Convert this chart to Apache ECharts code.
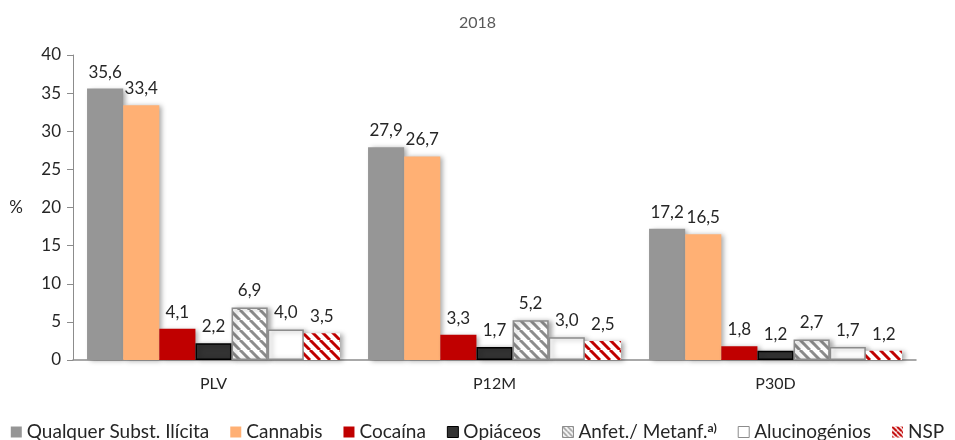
<!DOCTYPE html>
<html lang="pt">
<head>
    <meta charset="UTF-8">
    <script src="https://cdn.jsdelivr.net/npm/echarts@6.0.0/dist/echarts.min.js"></script>
    <title>2018</title>
    <style>body{margin:0;background:#fff;}</style>
</head>
<body>
    <div id="main" style="width: 955px;height:440px;"></div>
    <script type="text/javascript">
      var categories = ['PLV', 'P12M', 'P30D'];
      var seriesNames = ['Qualquer Subst. Ilícita', 'Cannabis', 'Cocaína', 'Opiáceos', 'Anfet./ Metanf.', 'Alucinogénios', 'NSP'];
      var qualquer = [35.6, 27.9, 17.2];
      var cannabis = [33.4, 26.7, 16.5];
      var cocaina = [4.1, 3.3, 1.8];
      var opiaceos = [2.2, 1.7, 1.2];
      var anfet = [6.9, 5.2, 2.7];
      var alucinog = [4.0, 3.0, 1.7];
      var nsp = [3.5, 2.5, 1.2];
      var yTicks = [0, 5, 10, 15, 20, 25, 30, 35, 40];

      // listras diagonais
      function stripes(col, size, lw) {
        var c = document.createElement('canvas');
        c.width = size; c.height = size;
        var ctx = c.getContext('2d');
        ctx.fillStyle = '#fff';
        ctx.fillRect(0, 0, size, size);
        ctx.strokeStyle = col;
        ctx.lineWidth = lw;
        ctx.beginPath();
        for (var k = -size; k <= 2 * size; k += size) {
          ctx.moveTo(k, 0);
          ctx.lineTo(k + size, size);
        }
        ctx.stroke();
        return { image: c, repeat: 'repeat' };
      }

      var styles = [
        { color: '#969696' },
        { color: '#FFB074' },
        { color: '#C00000' },
        { color: '#333333', borderColor: '#000', borderWidth: 1.5 },
        { color: stripes('#8c8c8c', 10, 3), borderColor: '#8c8c8c', borderWidth: 1.5 },
        { color: '#ffffff', borderColor: '#8c8c8c', borderWidth: 1.5 },
        { color: stripes('#C00000', 10, 3) }
      ];
      var legendStyles = [
        { color: '#969696' },
        { color: '#FFB074' },
        { color: '#C00000' },
        { color: '#333333', borderColor: '#000', borderWidth: 1 },
        { color: stripes('#8c8c8c', 5, 1.5), borderColor: '#8c8c8c', borderWidth: 1 },
        { color: '#ffffff', borderColor: '#8c8c8c', borderWidth: 1 },
        { color: stripes('#C00000', 5, 2) }
      ];
      var values = [qualquer, cannabis, cocaina, opiaceos, anfet, alucinog, nsp];

      var myChart = echarts.init(document.getElementById('main'));
      var font = 'Lato, sans-serif';

      var series = values.map(function (d, i) {
        var st = Object.assign({
          shadowColor: 'rgba(0,0,0,0.35)', shadowBlur: 5, shadowOffsetX: 3, shadowOffsetY: 1
        }, styles[i]);
        return {
          name: seriesNames[i],
          type: 'bar',
          data: d,
          barGap: '0%',
          barCategoryGap: '10%',
          itemStyle: st,
          label: {
            show: true, position: 'top', distance: 8,
            color: '#262626', fontSize: 17, fontFamily: font,
            formatter: function (p) { return p.value.toFixed(1).replace('.', ','); }
          }
        };
      });

      var option = {
        animation: false,
        title: {
          text: '2018', left: 'center', top: 10,
          textStyle: { color: '#595959', fontSize: 16, fontWeight: 'normal', fontFamily: font }
        },
        legend: {
          top: 417, left: 'center',
          itemWidth: 11, itemHeight: 11, itemGap: 21,
          textStyle: { color: '#262626', fontSize: 19, fontFamily: font,
            rich: { sup: { fontSize: 12, verticalAlign: 'top', padding: [0, 0, 8, 0], fontFamily: font, color: '#262626', fontWeight: 'bold' } } },
          formatter: function (n) { return n === 'Anfet./ Metanf.' ? n + '{sup|a)}' : n; },
          data: seriesNames.map(function (n, i) {
            return { name: n, icon: 'rect', itemStyle: legendStyles[i] };
          })
        },
        grid: { left: 73, right: 39, top: 55, bottom: 80 },
        xAxis: {
          type: 'category', data: categories,
          axisLine: { lineStyle: { color: '#8c8c8c', width: 1.5 } },
          axisTick: { show: false },
          axisLabel: { color: '#262626', fontSize: 16, fontFamily: font, margin: 16 }
        },
        yAxis: {
          type: 'value', min: yTicks[0], max: yTicks[yTicks.length - 1], interval: 5,
          name: '%', nameLocation: 'middle', nameGap: 50, nameRotate: 0,
          nameTextStyle: { color: '#262626', fontSize: 17, fontFamily: font },
          axisLine: { show: true, lineStyle: { color: '#8c8c8c' } },
          axisTick: { show: true, length: 6, lineStyle: { color: '#8c8c8c' } },
          splitLine: { show: false },
          axisLabel: { color: '#262626', fontSize: 17, fontFamily: font, margin: 12 }
        },
        series: series
      };

      myChart.setOption(option);
    </script>
</body>
</html>
